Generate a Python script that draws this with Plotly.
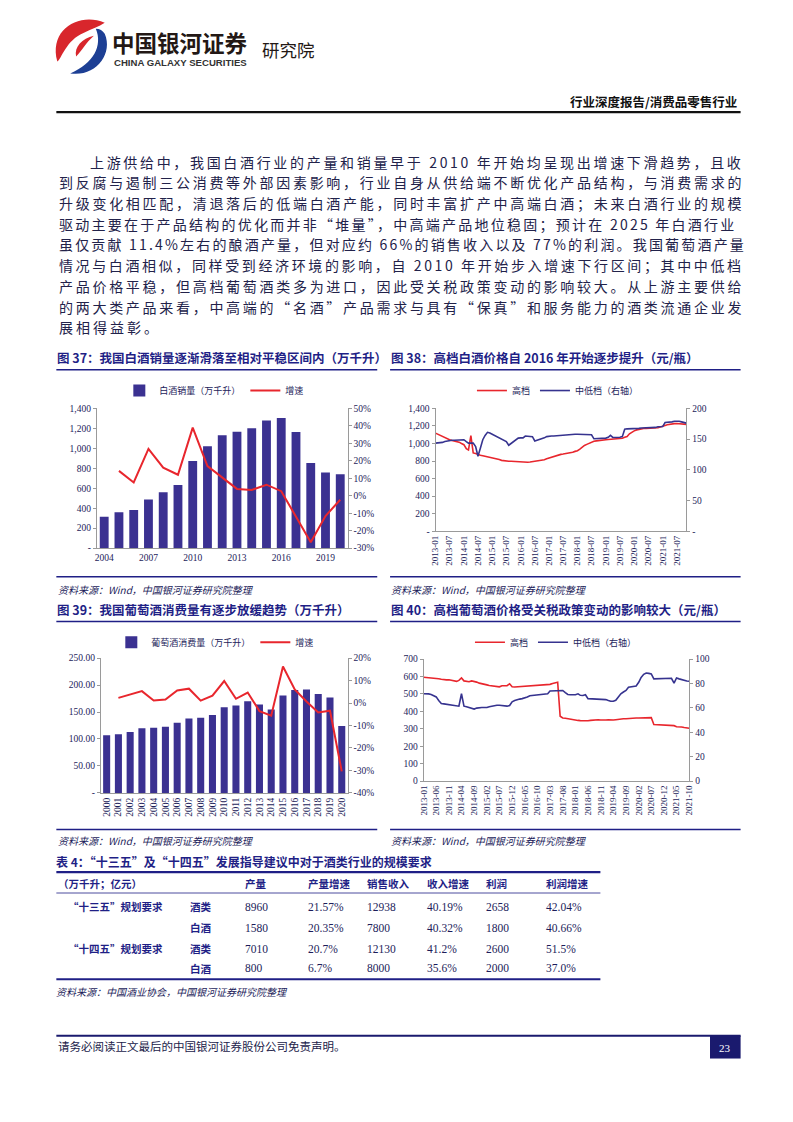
import plotly.graph_objects as go
import pandas as pd

# ---------------- DATA ----------------
c37_years = ['2004', '2005', '2006', '2007', '2008', '2009', '2010', '2011', '2012',
             '2013', '2014', '2015', '2016', '2017', '2018', '2019', '2020']
c37_sales = [313, 359, 382, 487, 560, 632, 873, 1021, 1130, 1166, 1202, 1278, 1304, 1163, 853, 757, 741]
c37_growth = [None, 14.2, 7.6, 26.8, 16.1, 12.0, 39.0, 17.0, 10.5, 3.9, 3.3, 6.3, 2.6, -12.0, -26.6, -11.6, -2.3]
c37_ticks = ['2004', '2007', '2010', '2013', '2016', '2019']

c38_months = pd.date_range('2013-01-01', '2021-11-01', freq='MS')
c38_high = [1118, 1105, 1090, 1080, 1065, 1052, 1043, 1035, 1030, 1024, 1015, 1000,
            986, 940, 925, 1090, 892, 885, 873, 866, 860, 854, 850, 846,
            843, 835, 825, 817, 808, 802, 798, 797, 798, 796, 793, 792,
            790, 788, 786, 787, 790, 794, 798, 800, 802, 805, 815, 825,
            835, 845, 855, 862, 870, 876, 880, 884, 888, 892, 900, 910,
            918, 935, 956, 978, 990, 1005, 1016, 1025, 1030, 1035, 1038, 1040,
            1043, 1045, 1046, 1048, 1050, 1052, 1054, 1060, 1070, 1080, 1110, 1130,
            1144, 1155, 1162, 1167, 1170, 1172, 1174, 1176, 1175, 1174, 1180, 1188,
            1193, 1205, 1213, 1220, 1224, 1226, 1227, 1225, 1222, 1220, 1218]
c38_mid = [143.5, 143.5, 144, 144.6, 146, 147, 148, 148, 148, 148, 148.5, 149,
           149, 146, 143.5, 143.5, 143.5, 138, 122, 135, 149, 156, 161, 160,
           158, 156, 154, 151.6, 149.5, 148, 146, 140, 143, 146, 150, 151.6,
           152, 152, 155, 155, 155, 154, 147, 148, 149, 150.5, 152, 154,
           155, 155, 155, 155.4, 156, 156.5, 157, 157, 157, 157, 157.5, 158,
           158, 158, 157.5, 157.5, 157, 157, 157, 150.5, 150.5, 150.5, 151, 151,
           151.6, 153, 156, 152.7, 152.5, 153, 153, 154, 166, 166.7, 166.7, 166.7,
           166.7, 167, 167.5, 168, 168, 168, 168, 168.5, 168.5, 169, 170, 170,
           170.4, 177, 177, 177, 178, 179, 179.6, 179, 178, 177, 176]

c39_years = ['2000', '2001', '2002', '2003', '2004', '2005', '2006', '2007', '2008', '2009', '2010',
             '2011', '2012', '2013', '2014', '2015', '2016', '2017', '2018', '2019', '2020']
c39_cons = [106.9, 108.7, 113.0, 119.8, 121.0, 122.9, 130.2, 138.2, 139.4, 144.3, 159.0,
            162.0, 170.0, 164.0, 154.8, 180.6, 191.0, 191.6, 183.7, 176.9, 124.0]
c39_growth = [None, 2.3, 3.9, 5.3, 1.1, 1.6, 5.6, 6.4, 1.1, 3.3, 9.8,
              1.9, 4.7, -3.6, -5.6, 16.3, 6.1, 0.7, -4.2, -3.4, -30.4]

c40_months = pd.date_range('2013-01-01', '2021-10-01', freq='MS')
c40_high = [596, 595, 594, 593, 591, 590, 587, 584, 581, 581, 581, 578,
            576, 572, 578, 592, 575, 571, 570, 575, 573, 568, 562, 560,
            556, 552, 549, 546, 543, 542, 541, 547, 545, 547, 558, 541,
            540, 541, 541, 541, 543, 545, 546, 547, 548, 549, 550, 550,
            550, 552, 555, 560, 564, 567, 372, 362, 360, 357, 355, 352,
            350, 348, 347, 346, 346, 346, 348, 350, 352, 352, 350, 352,
            350, 351, 349, 350, 352, 355, 357, 358, 358, 360, 362, 362,
            362, 362, 362, 362, 362, 362, 364, 325, 324, 323, 322, 322,
            321, 320, 320, 318, 312, 312, 310, 307, 305, 303]
c40_mid = [71.6, 71.8, 71.5, 71, 70, 69, 66, 63.5, 63.3, 63, 62.7, 62.3,
           62, 61.6, 61.4, 71.6, 61.4, 61, 60.3, 59.6, 59, 59.8, 60.3, 60.3,
           60.3, 60.3, 61, 61.6, 62, 62.2, 62.2, 62, 61.6, 61.4, 62, 65,
           66, 66.8, 67.2, 67.6, 68, 69, 70, 70.3, 70.5, 70.8, 71, 71.3,
           71.5, 71.6, 73.8, 74, 74.2, 74.3, 74.5, 74.3, 72.5, 71, 70.8, 70.8,
           70.8, 71.5, 70.3, 70.2, 70.8, 67.6, 67.5, 67.4, 67.4, 67.3, 67.3, 67,
           66.8, 66, 65.4, 65.4, 66.2, 69, 71.6, 73, 74.3, 77, 77.5, 77.8,
           78, 81, 85, 87.5, 88.6, 88.3, 87.8, 83.8, 83.8, 83.8, 83.8, 83.8,
           84, 84.2, 84.3, 80.3, 84.5, 83.8, 83, 82.5, 82, 81.9]

tbl_header = ['（万千升；亿元）', '产量', '产量增速', '销售收入', '收入增速', '利润', '利润增速']
tbl_groups = ['“十三五”规划要求', '', '“十四五”规划要求', '']
tbl_kinds = ['酒类', '白酒', '酒类', '白酒']
tbl_output = ['8960', '1580', '7010', '800']
tbl_output_g = ['21.57%', '20.35%', '20.7%', '6.7%']
tbl_rev = ['12938', '7800', '12130', '8000']
tbl_rev_g = ['40.19%', '40.32%', '41.2%', '35.6%']
tbl_profit = ['2658', '1800', '2600', '2000']
tbl_profit_g = ['42.04%', '40.66%', '51.5%', '37.0%']

body_lines = [
    '上游供给中，我国白酒行业的产量和销量早于 2010 年开始均呈现出增速下滑趋势，且收',
    '到反腐与遏制三公消费等外部因素影响，行业自身从供给端不断优化产品结构，与消费需求的',
    '升级变化相匹配，清退落后的低端白酒产能，同时丰富扩产中高端白酒；未来白酒行业的规模',
    '驱动主要在于产品结构的优化而并非“堆量”，中高端产品地位稳固；预计在 2025 年白酒行业',
    '虽仅贡献 11.4%左右的酿酒产量，但对应约 66%的销售收入以及 77%的利润。我国葡萄酒产量',
    '情况与白酒相似，同样受到经济环境的影响，自 2010 年开始步入增速下行区间；其中中低档',
    '产品价格平稳，但高档葡萄酒类多为进口，因此受关税政策变动的影响较大。从上游主要供给',
    '的两大类产品来看，中高端的“名酒”产品需求与具有“保真”和服务能力的酒类流通企业发',
    '展相得益彰。',
]

# ---------------- STYLE ----------------
W, H = 793, 1122
NAVY = '#3b3191'
RED = '#e8262d'
BLUE = '#36338f'
AX = '#9a9a9a'
TXT = '#1c1c5a'
TITLE = '#1f1f86'
CJK = 'Noto Sans CJK SC'
SERIF = 'Liberation Serif'
TF = dict(family=SERIF, size=9.5, color=TXT)


def X(p):
    return p / W


def Y(p):
    return 1 - p / H


fig = go.Figure()

# Chart 37
fig.add_trace(go.Bar(x=c37_years, y=c37_sales, name='白酒销量（万千升）', marker_color=NAVY,
                     marker_line_width=0, xaxis='x', yaxis='y', legend='legend'))
fig.add_trace(go.Scatter(x=c37_years, y=c37_growth, name='增速', mode='lines',
                         line=dict(color=RED, width=2), xaxis='x', yaxis='y2', legend='legend'))
# Chart 38
fig.add_trace(go.Scatter(x=c38_months, y=c38_high, name='高档', mode='lines',
                         line=dict(color=RED, width=1.6), xaxis='x2', yaxis='y3', legend='legend2'))
fig.add_trace(go.Scatter(x=c38_months, y=c38_mid, name='中低档（右轴）', mode='lines',
                         line=dict(color=BLUE, width=1.6), xaxis='x2', yaxis='y4', legend='legend2'))
# Chart 39
fig.add_trace(go.Bar(x=c39_years, y=c39_cons, name='葡萄酒消费量（万千升）', marker_color=NAVY,
                     marker_line_width=0, xaxis='x3', yaxis='y5', legend='legend3'))
fig.add_trace(go.Scatter(x=c39_years, y=c39_growth, name='增速', mode='lines',
                         line=dict(color=RED, width=2), xaxis='x3', yaxis='y6', legend='legend3'))
# Chart 40
fig.add_trace(go.Scatter(x=c40_months, y=c40_high, name='高档', mode='lines',
                         line=dict(color=RED, width=1.6), xaxis='x4', yaxis='y7', legend='legend4'))
fig.add_trace(go.Scatter(x=c40_months, y=c40_mid, name='中低档（右轴）', mode='lines',
                         line=dict(color=BLUE, width=1.6), xaxis='x4', yaxis='y8', legend='legend4'))


def yleft(dom, rng, vals, texts, anchor):
    return dict(domain=dom, anchor=anchor, range=rng, tickvals=vals, ticktext=texts,
                showline=True, linecolor=AX, linewidth=1, ticks='outside', ticklen=3, tickcolor=AX,
                showgrid=False, zeroline=False, tickfont=TF, fixedrange=True)


def yright(over, anchor, rng, vals, texts):
    return dict(overlaying=over, side='right', anchor=anchor, range=rng, tickvals=vals, ticktext=texts,
                showline=True, linecolor=AX, linewidth=1, ticks='outside', ticklen=3, tickcolor=AX,
                showgrid=False, zeroline=False, tickfont=TF, fixedrange=True)


def xcat(dom, anchor, tickvals=None, angle=0):
    d = dict(domain=dom, anchor=anchor, type='category', showline=True, linecolor=AX, linewidth=1,
             ticks='', showgrid=False, tickfont=TF, tickangle=angle, fixedrange=True)
    if tickvals is not None:
        d['tickmode'] = 'array'
        d['tickvals'] = tickvals
    return d


def xdate(dom, anchor, rng, dtick):
    return dict(domain=dom, anchor=anchor, type='date', range=rng, tick0=rng[0], dtick=dtick,
                tickformat='%Y-%m', tickangle=-90, showline=True, linecolor=AX, linewidth=1,
                ticks='', showgrid=False, tickfont=dict(family=SERIF, size=9, color=TXT), fixedrange=True)


lay = dict(
    width=W, height=H, autosize=False, margin=dict(l=0, r=0, t=0, b=0),
    paper_bgcolor='white', plot_bgcolor='rgba(0,0,0,0)', bargap=0.4,
    xaxis=xcat([X(93), X(347)], 'y', c37_ticks),
    yaxis=yleft([Y(548), Y(407)], [0, 1400], list(range(0, 1401, 200)),
                ['-', '200', '400', '600', '800', '1,000', '1,200', '1,400'], 'x'),
    yaxis2=yright('y', 'x', [-30, 50], list(range(-30, 51, 10)),
                  [f'{v}%' for v in range(-30, 51, 10)]),
    xaxis2=xdate([X(436), X(690)], 'y3', ['2013-01-01', '2021-11-01'], 'M6'),
    yaxis3=yleft([Y(531), Y(407)], [0, 1400], list(range(0, 1401, 200)),
                 ['-', '200', '400', '600', '800', '1,000', '1,200', '1,400'], 'x2'),
    yaxis4=yright('y3', 'x2', [0, 200], [0, 50, 100, 150, 200], ['-', '50', '100', '150', '200']),
    xaxis3=xcat([X(97), X(347)], 'y5', None, -90),
    yaxis5=yleft([Y(795), Y(659)], [0, 250], [0, 50, 100, 150, 200, 250],
                 ['-', '50.00', '100.00', '150.00', '200.00', '250.00'], 'x3'),
    yaxis6=yright('y5', 'x3', [-40, 20], list(range(-40, 21, 10)),
                  [f'{v}%' for v in range(-40, 21, 10)]),
    xaxis4=xdate([X(424), X(693)], 'y7', ['2013-01-01', '2021-10-01'], 'M5'),
    yaxis7=yleft([Y(783), Y(660)], [0, 700], list(range(0, 701, 100)),
                 [str(v) for v in range(0, 701, 100)], 'x4'),
    yaxis8=yright('y7', 'x4', [0, 100], list(range(0, 101, 20)), [str(v) for v in range(0, 101, 20)]),
)

LEGF = dict(family=CJK, size=9, color=TXT)
for name, cx, cy in [('legend', 212, 389), ('legend2', 560, 389), ('legend3', 213, 643), ('legend4', 558, 643)]:
    lay[name] = dict(x=X(cx), y=Y(cy), xanchor='center', yanchor='middle', orientation='h',
                     font=LEGF, bgcolor='rgba(0,0,0,0)', itemwidth=30, traceorder='normal')

fig.update_layout(**lay)

ann = []
shapes = []


def txt(x, y, s, size=11, color=TXT, family=CJK, anchor='left', bold=False, italic=False):
    t = s
    if bold:
        t = '<b>' + t + '</b>'
    if italic:
        t = '<i>' + t + '</i>'
    ann.append(dict(x=X(x), y=Y(y), xref='paper', yref='paper', text=t, showarrow=False,
                    xanchor=anchor, yanchor='middle', font=dict(family=family, size=size, color=color)))


def hline(x0, x1, y, color=TITLE, width=1.5):
    shapes.append(dict(type='line', xref='paper', yref='paper', x0=X(x0), x1=X(x1), y0=Y(y), y1=Y(y),
                       line=dict(color=color, width=width)))


def est_w(s, fs):
    w = 0
    for c in s:
        if c == ' ':
            w += 0.25 * fs
        elif c in '0123456789':
            w += 0.55 * fs
        elif c == '.':
            w += 0.28 * fs
        elif c == '%':
            w += 0.86 * fs
        elif ord(c) < 0x2000:
            w += 0.55 * fs
        else:
            w += fs
    return w


# ---- Header / logo ----
def ppath(cmds):
    out = []
    for c in cmds:
        if isinstance(c, str):
            out.append(c)
        else:
            out.append(f'{X(c[0]):.5f},{Y(c[1]):.5f}')
    return ' '.join(out)


red_logo = ppath(['M', (101, 18), 'C', (76, 7), (44, 24), (53, 57), (56, 65), (61, 69), (66, 69),
                  'C', (57, 55), (62, 35), (80, 28), 'C', (88, 24), (95, 22), (101, 18), 'Z'])
blue_logo = ppath(['M', (66, 69), 'C', (91, 73), (110, 50), (101, 29), 'C', (99, 26), (96, 24), (92, 24),
                   'C', (99, 41), (90, 59), (66, 69), 'Z'])
red_inner = ppath(['M', (72, 52), 'C', (70, 42), (78, 34), (90, 31), 'C', (82, 38), (78, 46), (72, 52), 'Z'])
shapes.append(dict(type='path', xref='paper', yref='paper', path=red_logo, fillcolor='#d8262c', line_width=0))
shapes.append(dict(type='path', xref='paper', yref='paper', path=red_inner, fillcolor='#d8262c', line_width=0))
shapes.append(dict(type='path', xref='paper', yref='paper', path=blue_logo, fillcolor='#1d3f94', line_width=0))

txt(106, 37, '中国银河证券', size=22.5, color='#231815', bold=True)
txt(108, 58, 'CHINA GALAXY SECURITIES', size=9.6, color='#333333', family='Liberation Sans', bold=True)
txt(258, 45, '研究院', size=17.5, color='#231815')
txt(743, 97, '行业深度报告/消费品零售行业', size=12.5, color='#111111', anchor='right', bold=True)
hline(52, 745, 108, color='#111111', width=2.2)

# ---- Body text (justified via letter spacing) ----
BFS = 14
for i, line in enumerate(body_lines):
    x0 = 84 if i == 0 else 53
    y = 158 + 20.9 * i
    if i < len(body_lines) - 1:
        ls = (738 - x0 - est_w(line, BFS)) / len(line)
    else:
        ls = 3.0
    ann.append(dict(x=X(x0), y=Y(y), xref='paper', yref='paper',
                    text=f'<span style="letter-spacing:{ls:.2f}px">{line}</span>', showarrow=False,
                    xanchor='left', yanchor='middle', font=dict(family=CJK, size=BFS, color='#22224a')))

# ---- Chart titles, rules, sources ----
src = '资料来源：Wind，中国银河证券研究院整理'
txt(51, 356, '图 37：我国白酒销量逐渐滑落至相对平稳区间内（万千升）', size=12.5, color=TITLE, bold=True)
txt(389, 356, '图 38：高档白酒价格自 2016 年开始逐步提升（元/瓶）', size=12.5, color=TITLE, bold=True)
hline(52, 377, 368)
hline(390, 745, 368)
hline(52, 377, 577)
hline(390, 745, 577)
txt(52, 590, src, size=10, color=TXT, italic=True)
txt(389, 590, src, size=10, color=TXT, italic=True)

txt(51, 610, '图 39：我国葡萄酒消费量有逐步放缓趋势（万千升）', size=12.5, color=TITLE, bold=True)
txt(389, 610, '图 40：高档葡萄酒价格受关税政策变动的影响较大（元/瓶）', size=12.5, color=TITLE, bold=True)
hline(52, 377, 622)
hline(390, 745, 622)
hline(52, 377, 832)
hline(390, 745, 832)
txt(52, 843, src, size=10, color=TXT, italic=True)
txt(389, 843, src, size=10, color=TXT, italic=True)

# ---- Table ----
txt(50, 864, '表 4：“十三五”及“十四五”发展指导建议中对于酒类行业的规模要求', size=12, color=TITLE, bold=True)
hline(52, 603, 875, width=2.2)
hline(52, 603, 896, width=0.8)
hline(52, 603, 983, width=2.2)
col_x = [52, 241, 305, 365, 425, 485, 546]
for cx, h in zip(col_x, tbl_header):
    txt(cx, 886, h, size=10.5, color=TITLE, bold=True)
row_y = [910, 931, 952, 972]
for j, ry in enumerate(row_y):
    if tbl_groups[j]:
        txt(62, ry, tbl_groups[j], size=10.5, color=TITLE, bold=True)
    txt(185, ry, tbl_kinds[j], size=10.5, color=TITLE, bold=True)
    vals = [tbl_output[j], tbl_output_g[j], tbl_rev[j], tbl_rev_g[j], tbl_profit[j], tbl_profit_g[j]]
    for cx, v in zip(col_x[1:], vals):
        txt(cx, ry, v, size=11.5, color=TXT, family=SERIF)
txt(50, 995, '资料来源：中国酒业协会，中国银河证券研究院整理', size=10, color=TXT, italic=True)

# ---- Footer ----
hline(52, 745, 1040, color='#1a1a6e', width=2)
shapes.append(dict(type='rect', xref='paper', yref='paper', x0=X(714), x1=X(745), y0=Y(1063), y1=Y(1040),
                   fillcolor='#1a1a6e', line_width=0))
txt(729.5, 1052, '23', size=11, color='white', family=SERIF, anchor='center')
txt(52, 1050, '请务必阅读正文最后的中国银河证券股份公司免责声明。', size=11.5, color='#22224a')

fig.update_layout(annotations=ann, shapes=shapes)
fig.write_html('out.html', config={'displayModeBar': False},
               post_script="document.body.style.margin='0px';document.body.style.padding='0px';")
